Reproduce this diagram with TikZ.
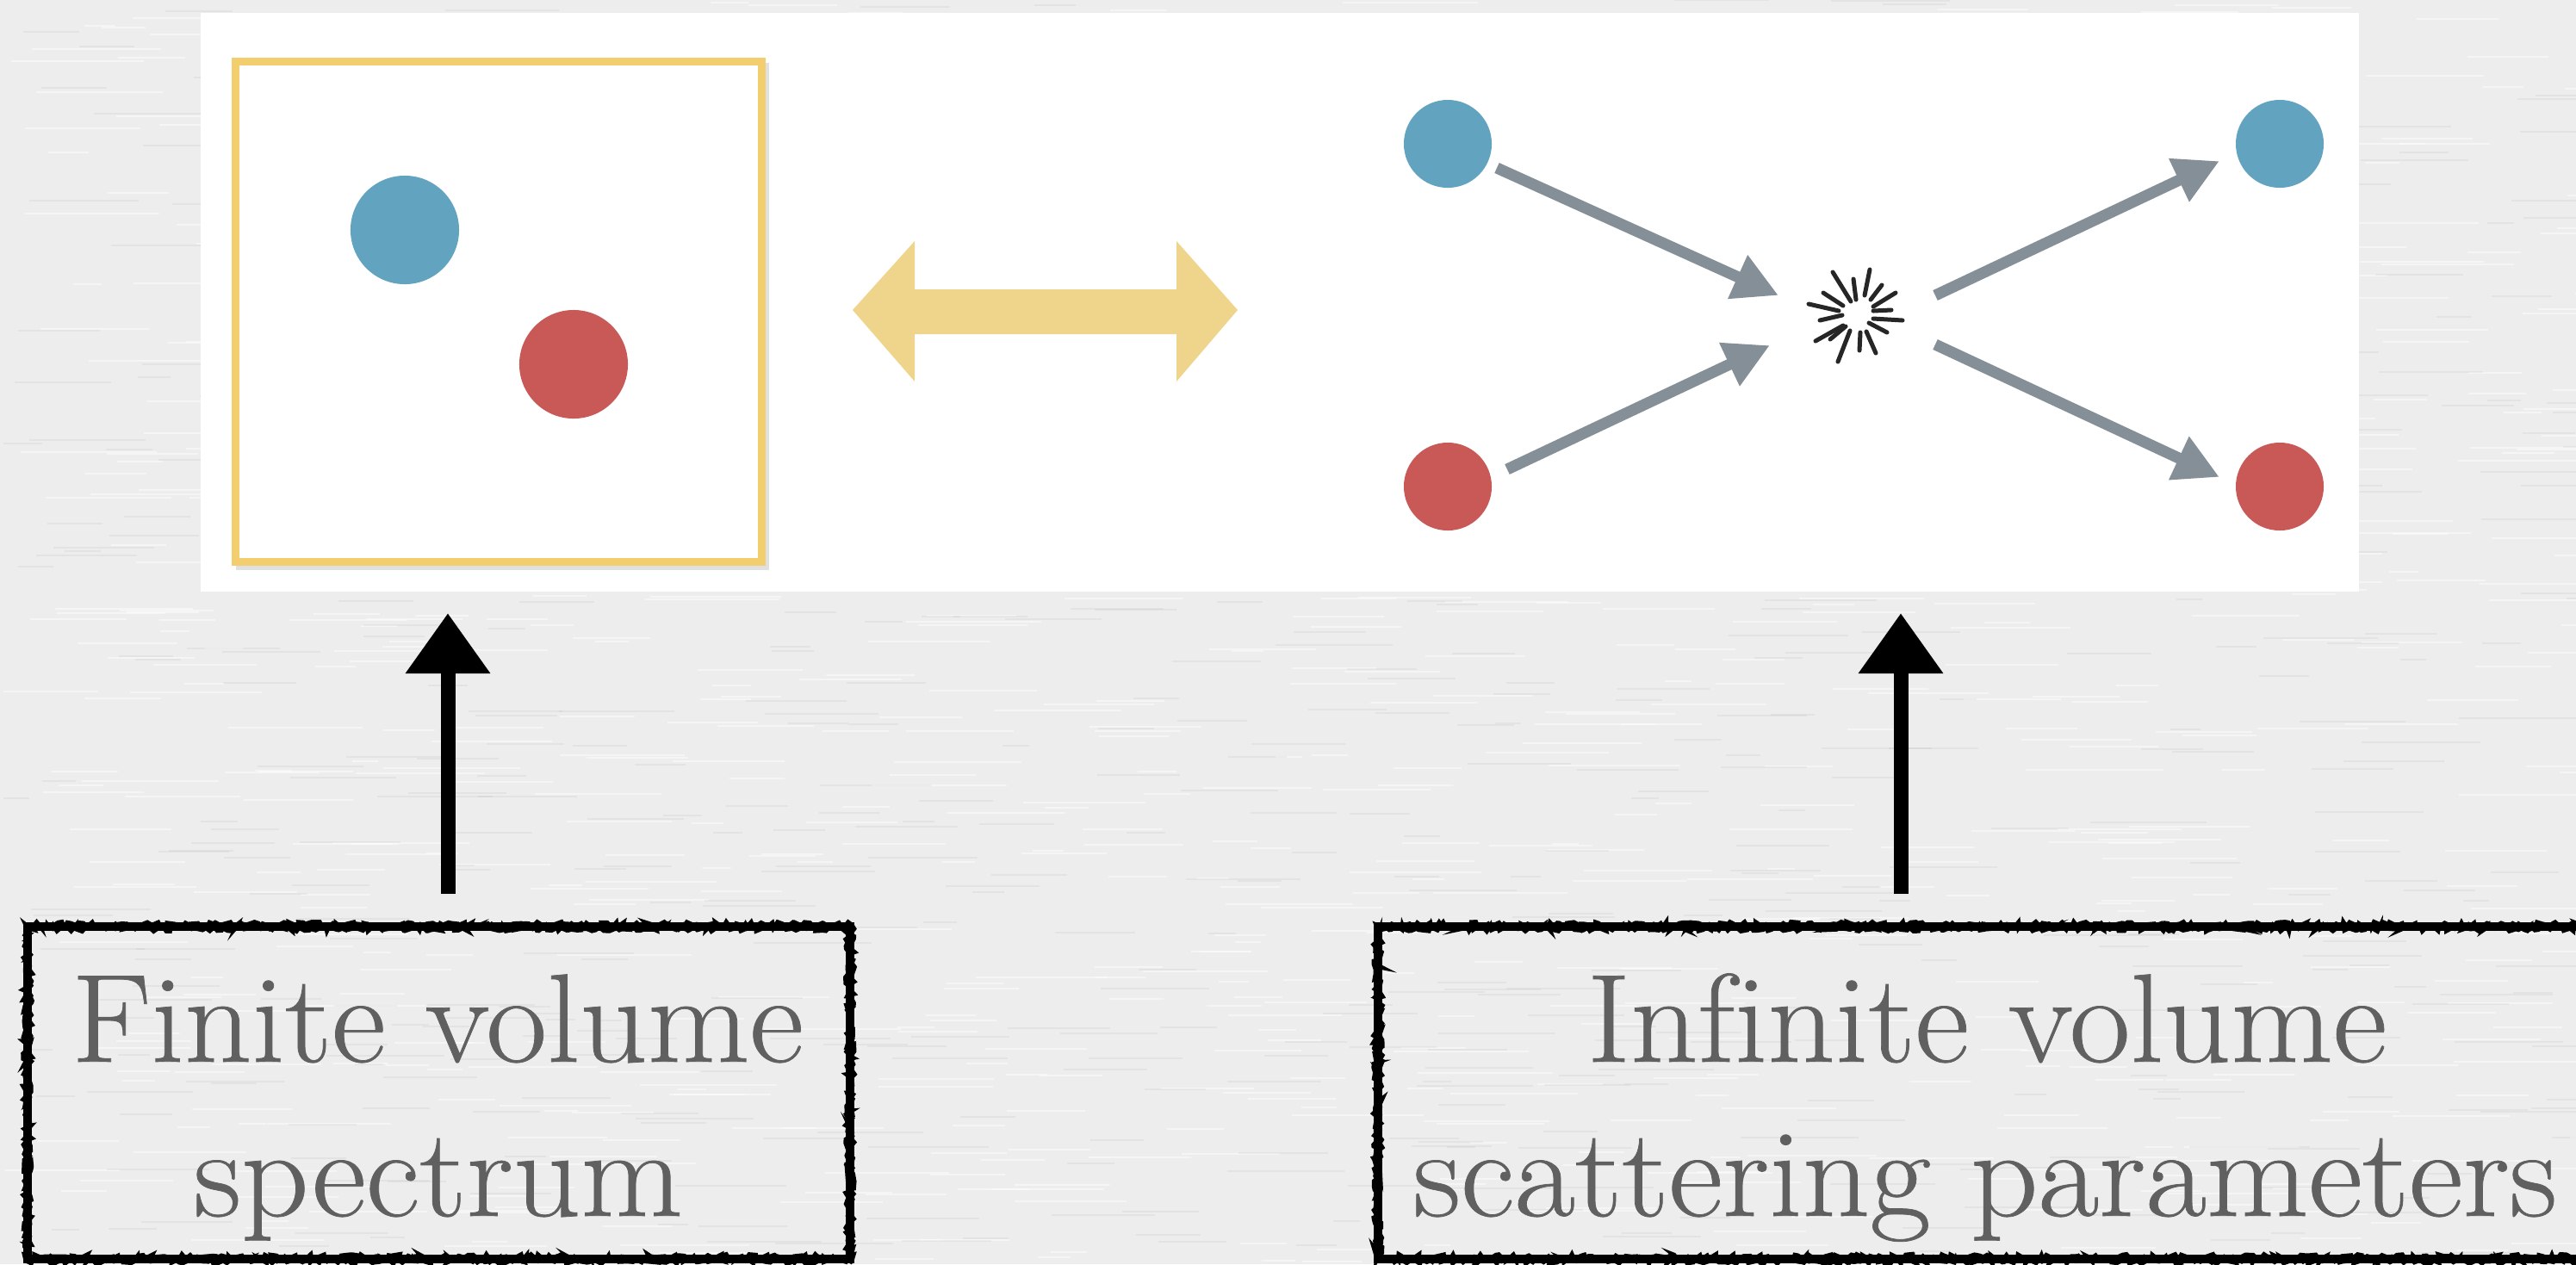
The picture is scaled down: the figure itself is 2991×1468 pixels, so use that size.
\documentclass[tikz,border=0pt]{standalone}
\usepackage{fontspec}
\setmainfont{Latin Modern Roman}[FakeStretch=1.05,FakeBold=0.5]
\usetikzlibrary{arrows.meta,decorations.pathmorphing,calc}
\definecolor{bg}{HTML}{EDEDED}
\definecolor{pblue}{HTML}{62A3BF}
\definecolor{pred}{HTML}{C95957}
\definecolor{agray}{HTML}{858F97}
\definecolor{ygold}{HTML}{F2CE6E}
\definecolor{ysand}{HTML}{EFD48B}
\definecolor{tgray}{HTML}{606060}
\begin{document}
\begin{tikzpicture}[x=0.01cm,y=-0.01cm,
  bigdot/.style={circle,inner sep=0pt,minimum size=1.26cm},
  smalldot/.style={circle,inner sep=0pt,minimum size=1.02cm},
  garrow/.style={draw=agray,line width=0.13cm,-{Triangle[length=0.52cm,width=0.52cm]}},
  burstline/.style={draw=black!85,line width=0.05cm,line cap=round},
  sketcharrow/.style={draw=black,line width=0.17cm,-{Triangle[length=0.7cm,width=0.94cm]}},
  sketchbox/.style={draw=black,line width=0.1cm},
  roughedge/.style={draw=black,line width=0.05cm,decorate,decoration={random steps,segment length=0.04cm,amplitude=0.035cm}},
  lbl/.style={font=\fontsize{41.6pt}{50.9pt}\selectfont,text=tgray,inner sep=0pt,anchor=base}]
\useasboundingbox (0,0) rectangle (2991,1468);
\clip (0,0) rectangle (2991,1468);
% paper background
\fill[bg] (0,0) rectangle (2991,1468);
\pgfmathsetseed{42}
\foreach \i in {1,...,900}{
  \pgfmathsetmacro\xa{random(0,2991)}
  \pgfmathsetmacro\ya{random(0,1468)}
  \pgfmathsetmacro\la{random(30,160)}
  \draw[white,opacity=0.45,line width=0.02cm] (\xa,\ya) -- ++(\la,0);
}
\foreach \i in {1,...,700}{
  \pgfmathsetmacro\xa{random(0,2991)}
  \pgfmathsetmacro\ya{random(0,1468)}
  \pgfmathsetmacro\la{random(30,140)}
  \draw[black,opacity=0.04,line width=0.015cm] (\xa,\ya) -- ++(\la,0);
}
% white panel
\fill[white] (233,15) rectangle (2739,687);
% finite volume box
\draw[black,opacity=0.12,line width=0.09cm] (278,77) rectangle (888,657);
\node[draw=ygold,line width=0.09cm,fill=white,minimum width=6.1cm,minimum height=5.8cm,inner sep=0pt] (fvbox) at (579,362) {};
\node[bigdot,fill=pblue] (fblue) at (470,267) {};
\node[bigdot,fill=pred] (fred) at (666,423) {};
% yellow double arrow
\fill[ysand] (990,360) -- (1062,280) -- (1062,336) -- (1366,336) -- (1366,280) -- (1437,360)
  -- (1366,443) -- (1366,388) -- (1062,388) -- (1062,443) -- cycle;
% scattering diagram
\node[smalldot,fill=pblue] (inblue) at (1681,167) {};
\node[smalldot,fill=pred] (inred) at (1681,565) {};
\node[smalldot,fill=pblue] (outblue) at (2647,167) {};
\node[smalldot,fill=pred] (outred) at (2647,565) {};
\coordinate (burst) at (2157,368);
\coordinate (a1s) at (1738,195); \coordinate (a1e) at (2065,343);
\coordinate (a2s) at (1750,545); \coordinate (a2e) at (2055,401);
\coordinate (a3s) at (2247,343); \coordinate (a3e) at (2577,187);
\coordinate (a4s) at (2247,400); \coordinate (a4e) at (2577,554);
\draw[garrow] (a1s) -- (a1e);
\draw[garrow] (a2s) -- (a2e);
\draw[garrow] (a3s) -- (a3e);
\draw[garrow] (a4s) -- (a4e);
\begin{scope}[shift={(burst)}]
  \foreach \xa/\ya/\xb/\yb in {-29/-52/-8/-18, -5/-44/-2/-20, 14/-55/8/-25, 28/-37/15/-20,
     44/-28/18/-12, 39/-8/18/-7, 52/4/18/2, 34/18/13/7, 21/42/10/17, 2/39/3/18,
     -23/52/-9/16, -49/28/-17/10, -32/26/-14/11, -44/4/-18/-2, -57/-15/-22/-7, -40/-28/-17/-13}
    \draw[burstline] (\xa,\ya) -- (\xb,\yb);
\end{scope}
% sketchy arrows
\coordinate (l1) at (520,1038); \coordinate (l2) at (520,712);
\coordinate (r1) at (2207,1038); \coordinate (r2) at (2207,712);
\draw[sketcharrow] (l1) -- (l2);
\draw[sketcharrow] (r1) -- (r2);
% sketchy boxes
\node[sketchbox,minimum width=9.55cm,minimum height=3.86cm,inner sep=0pt] (lbox) at (509.5,1269) {};
\draw[roughedge] (30,1074) rectangle (989,1464);
\draw[roughedge] (34,1078) rectangle (985,1460);
\node[sketchbox,minimum width=14.2cm,minimum height=3.86cm,inner sep=0pt] (rbox) at (2310,1269) {};
\draw[roughedge] (1598,1074) rectangle (3022,1464);
\draw[roughedge] (1602,1078) rectangle (3018,1460);
% labels
\node[lbl] (t1) at (508,1233) {Finite volume};
\node[lbl] (t2) at (509,1412) {spectrum};
\node[lbl] (t3) at (2307,1233) {Inf\kern0pt inite volume};
\node[lbl] (t4) at (2305,1412) {scattering parameters};
\end{tikzpicture}
\end{document}
